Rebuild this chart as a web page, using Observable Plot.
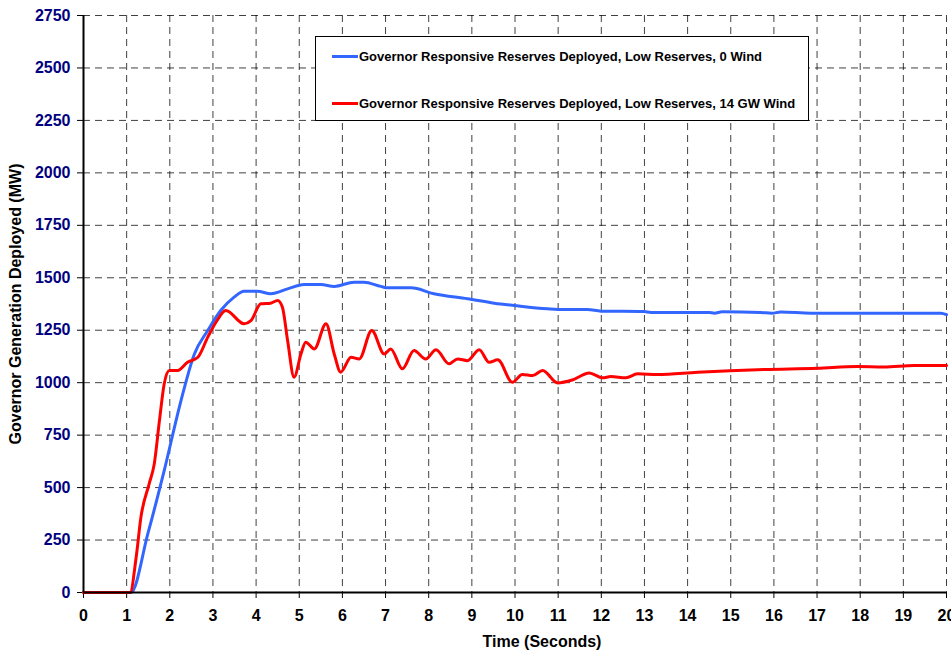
<!DOCTYPE html>
<html>
<head>
<meta charset="utf-8">
<script src="https://cdn.jsdelivr.net/npm/d3@7"></script>
<script src="https://cdn.jsdelivr.net/npm/@observablehq/plot@0.6"></script>
<style>
  html, body { margin: 0; padding: 0; background: #fff; }
  #wrap { position: relative; width: 951px; height: 656px; font-family: "Liberation Sans", Arial, sans-serif; }
  #legend { position: absolute; left: 315px; top: 36px; width: 492px; height: 83px; border: 1px solid #000; background: #fff; box-sizing: content-box; }
  .item { position: absolute; left: 16px; height: 16px; display: flex; align-items: center; font-weight: bold; font-size: 13px; color: #000; white-space: nowrap; }
  .sw { display: inline-block; width: 26px; height: 3px; margin-right: 1px; }
</style>
</head>
<body>
<div id="wrap"></div>
<script>
// ---- data ----
const seriesNames = [
  "Governor Responsive Reserves Deployed, Low Reserves, 0 Wind",
  "Governor Responsive Reserves Deployed, Low Reserves, 14 GW Wind"
];
const seriesColors = ["#3366FF", "#FF0000"];

const blueTime = [0, 1.1, 1.49, 1.87, 2.26, 2.57, 2.88, 3.18, 3.49, 3.72, 4.03, 4.34, 4.73, 5.11, 5.5, 5.81, 6.27, 6.5, 6.89, 7.05, 7.59, 8.12, 8.9, 9.52, 9.98, 10.75, 11.0, 11.68, 11.99, 12.99, 13.15, 14.5, 14.62, 14.8, 15.69, 15.95, 16.16, 16.86, 19.87, 20];
const blueMW   = [0, 0, 279, 581, 915, 1137, 1249, 1344, 1408, 1436, 1436, 1424, 1447, 1468, 1468, 1459, 1479, 1479, 1459, 1452, 1452, 1424, 1400, 1379, 1368, 1352, 1349, 1349, 1341, 1339, 1335, 1335, 1331, 1338, 1335, 1331, 1337, 1331, 1331, 1324];

const redTime = [0, 1.08, 1.22, 1.33, 1.52, 1.64, 1.76, 1.87, 1.99, 2.18, 2.41, 2.65, 2.88, 3.07, 3.3, 3.72, 3.88, 4.11, 4.34, 4.5, 4.61, 4.73, 4.88, 5.04, 5.15, 5.35, 5.62, 5.81, 5.96, 6.2, 6.39, 6.68, 6.97, 7.12, 7.39, 7.66, 7.93, 8.17, 8.47, 8.67, 8.9, 9.17, 9.4, 9.6, 9.94, 10.17, 10.41, 10.64, 10.99, 11.33, 11.72, 12.03, 12.22, 12.57, 12.84, 13.3, 14.23, 15.77, 17.01, 17.93, 18.55, 19.25, 20];
const redMW   = [0, 0, 167, 358, 517, 613, 819, 994, 1058, 1058, 1097, 1121, 1217, 1288, 1344, 1281, 1296, 1376, 1379, 1392, 1360, 1201, 1026, 1137, 1193, 1161, 1281, 1137, 1050, 1121, 1113, 1249, 1137, 1161, 1066, 1153, 1113, 1157, 1090, 1113, 1105, 1157, 1097, 1109, 1002, 1039, 1034, 1058, 999, 1013, 1046, 1023, 1029, 1023, 1042, 1039, 1050, 1063, 1069, 1077, 1075, 1082, 1082];

const xTicks = d3.range(0, 21, 1);
const yTicks = d3.range(0, 2751, 250);
const xTitle = "Time (Seconds)";
const yTitle = "Governor Generation Deployed (MW)";

const blue = blueTime.map((t, i) => ({t, v: blueMW[i]}));
const red = redTime.map((t, i) => ({t, v: redMW[i]}));

const chart = Plot.plot({
  width: 951,
  height: 656,
  marginLeft: 83,
  marginRight: 5,
  marginTop: 15,
  marginBottom: 64,
  style: { fontFamily: '"Liberation Sans", Arial, sans-serif', fontWeight: "bold", background: "#fff" },
  x: { domain: [0, 20], label: null },
  y: { domain: [0, 2750], label: null },
  marks: [
    Plot.gridX(xTicks.filter(d => d > 0), { stroke: "#000", strokeOpacity: 0.75, strokeDasharray: "7,5", strokeWidth: 1 }),
    Plot.gridY(yTicks.filter(d => d > 0), { stroke: "#000", strokeOpacity: 0.75, strokeDasharray: "7,5", strokeWidth: 1 }),
    Plot.axisY(yTicks, { tickSize: 6, tickPadding: 7, fill: "#000080", stroke: "#000", fontSize: 16, fontWeight: "bold", label: null, tickFormat: d => String(d) }),
    Plot.axisX(xTicks, { tickSize: 6, tickPadding: 11, fill: "#000", stroke: "#000", fontSize: 16, fontWeight: "bold", label: null, tickFormat: d => String(d) }),
    Plot.line(blue, { x: "t", y: "v", stroke: seriesColors[0], strokeWidth: 3, curve: "monotone-x" }),
    Plot.line(red, { x: "t", y: "v", stroke: seriesColors[1], strokeWidth: 3, curve: "monotone-x" }),
    Plot.ruleY([0], { stroke: "#000", strokeWidth: 2 }),
    Plot.ruleX([0], { stroke: "#000", strokeWidth: 2 }),
    Plot.text([xTitle], { frameAnchor: "bottom", textAnchor: "middle", dx: 27, dy: 54, fontSize: 16, fontWeight: "bold", fill: "#000" }),
    Plot.text([yTitle], { frameAnchor: "left", textAnchor: "middle", dx: -68, rotate: -90, fontSize: 16, fontWeight: "bold", fill: "#000" })
  ]
});

const wrap = document.getElementById("wrap");
wrap.appendChild(chart);

const legend = document.createElement("div");
legend.id = "legend";
seriesNames.forEach((name, i) => {
  const item = document.createElement("div");
  item.className = "item";
  item.style.top = (i === 0 ? 11 : 58) + "px";
  const sw = document.createElement("span");
  sw.className = "sw";
  sw.style.background = seriesColors[i];
  item.appendChild(sw);
  item.appendChild(document.createTextNode(name));
  legend.appendChild(item);
});
wrap.appendChild(legend);
</script>
</body>
</html>
